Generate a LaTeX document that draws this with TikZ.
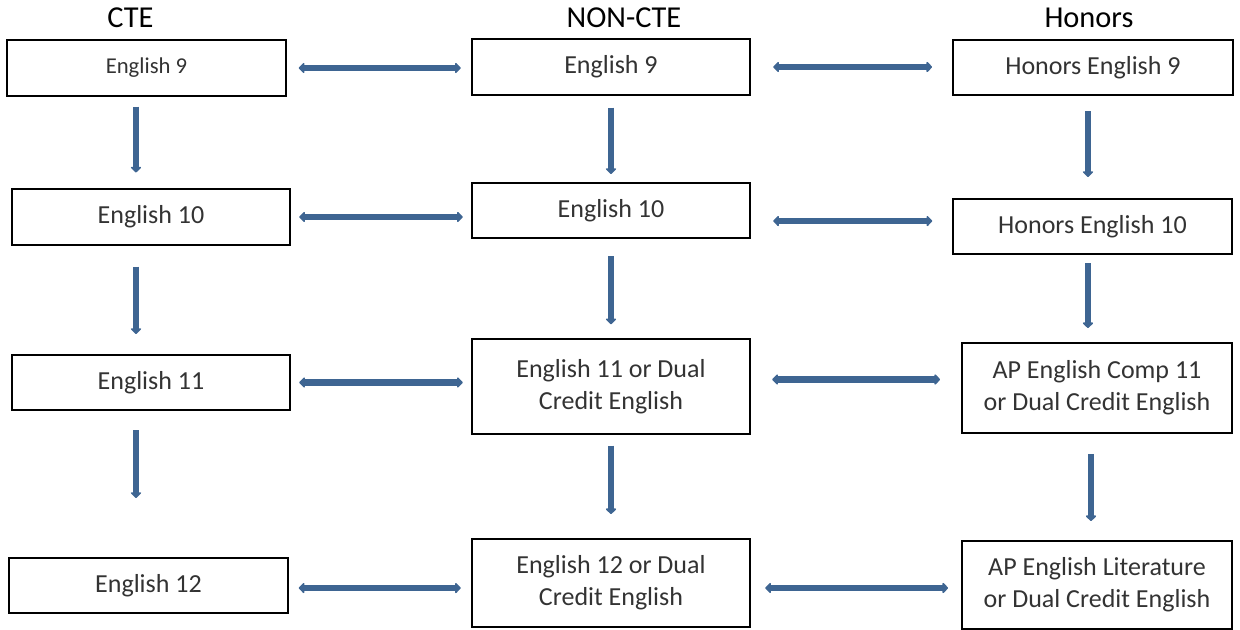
\documentclass[tikz,border=0pt]{standalone}
\usepackage{fontspec}
\setmainfont{Carlito}
\usetikzlibrary{arrows.meta}
\definecolor{linkblue}{HTML}{3E6592}
\definecolor{textgray}{HTML}{333333}
\tikzset{
  course/.style={draw, line width=1.3pt, inner sep=0pt, align=center, text=textgray,
    minimum width=209pt, minimum height=41.5pt, font=\fontsize{19.5}{24}\selectfont},
  tallcourse/.style={course, minimum width=202.5pt},
  head/.style={anchor=base, font=\fontsize{22.8}{27}\selectfont},
  link/.style={draw=linkblue, line width=4.8pt, {Triangle[width=9pt,length=4.5pt,round]}-{Triangle[width=9pt,length=4.5pt,round]}},
  down/.style={draw=linkblue, line width=4.8pt, -{Triangle[width=9pt,length=4.5pt,round]}}
}
\begin{document}
\begin{tikzpicture}[x=0.75pt,y=-0.75pt]
\useasboundingbox (0,0) rectangle (1240,630);
% column headers
\node[head] (hcte) at (130.5,28) {CTE};
\node[head] (hnon) at (624,28) {NON-CTE};
\node[head] (hhon) at (1089,28) {Honors};

% CTE
\node[course, font=\fontsize{17}{21}\selectfont] (c1a) at (146.5,68) {English 9};
\node[course] (c1b) at (151,217) {English 10};
\node[course] (c1c) at (151,382.5) {English 11};
\node[course] (c1d) at (148.5,585.5) {English 12};

% NON-CTE
\node[course] (c2a) at (611,67) {English 9};
\node[course] (c2b) at (611,210.5) {English 10};
\node[course, minimum height=71pt] (c2c) at (611,386.5) {English 11 or Dual\\Credit English};
\node[course, minimum height=66pt] (c2d) at (611,583) {English 12 or Dual\\Credit English};

% Honors
\node[course, minimum width=210pt] (c3a) at (1093,67.5) {Honors English 9};
\node[course] (c3b) at (1092.5,226.5) {Honors English 10};
\node[tallcourse, minimum height=67.5pt] (c3c) at (1097,388) {AP English Comp 11\\or Dual Credit English};
\node[tallcourse, minimum height=66pt] (c3d) at (1097,585) {AP English Literature\\or Dual Credit English};

% across
\path[link, shorten <=9pt, shorten >=7.5pt] (c1a.east) -- (c1a.east -| c2a.west);
\path[link, shorten <=16.5pt, shorten >=15pt] (c2a.east) -- (c2a.east -| c3a.west);
\path[link, shorten <=6pt, shorten >=6pt] (c1b.east) -- (c1b.east -| c2b.west);
\path[link, shorten <=16.5pt, shorten >=15pt] ([yshift=-7.9pt]c2b.east) -- ([yshift=-7.9pt]c2b.east -| c3b.west);
\path[link, shorten <=6pt, shorten >=6pt] (c1c.east) -- (c1c.east -| c2c.west);
\path[link, shorten <=15.75pt, shorten >=15.75pt] ([yshift=5.25pt]c2c.east) -- ([yshift=5.25pt]c2c.east -| c3c.west);
\path[link, shorten <=7.5pt, shorten >=7.5pt] ([yshift=-1.9pt]c1d.east) -- ([yshift=-1.9pt]c1d.east -| c2d.west);
\path[link, shorten <=10.5pt, shorten >=9.75pt] ([yshift=-3.75pt]c2d.east) -- ([yshift=-3.75pt]c2d.east -| c3d.west);

% down
\path[down, shorten <=7.5pt, shorten >=12pt] ([xshift=-7.9pt]c1a.south) -- ([xshift=-7.9pt]c1a.south |- c1b.north);
\path[down, shorten <=15.75pt, shorten >=15pt] ([xshift=-11.25pt]c1b.south) -- ([xshift=-11.25pt]c1b.south |- c1c.north);
\path[down, shorten <=14.25pt, shorten >=44.25pt] ([xshift=-11.25pt]c1c.south) -- ([xshift=-11.25pt]c1c.south |- c1d.north);
\path[down, shorten <=9pt, shorten >=6pt] (c2a.south) -- (c2a.south |- c2b.north);
\path[down, shorten <=12.75pt, shorten >=10.5pt] (c2b.south) -- (c2b.south |- c2c.north);
\path[down, shorten <=8.25pt, shorten >=18pt] (c2c.south) -- (c2c.south |- c2d.north);
\path[down, shorten <=11.25pt, shorten >=15.75pt] ([xshift=-3.75pt]c3a.south) -- ([xshift=-3.75pt]c3a.south |- c3b.north);
\path[down, shorten <=6pt, shorten >=10.5pt] ([xshift=-3.4pt]c3b.south) -- ([xshift=-3.4pt]c3b.south |- c3c.north);
\path[down, shorten <=15pt, shorten >=14.25pt] ([xshift=-4.5pt]c3c.south) -- ([xshift=-4.5pt]c3c.south |- c3d.north);
\end{tikzpicture}
\end{document}
